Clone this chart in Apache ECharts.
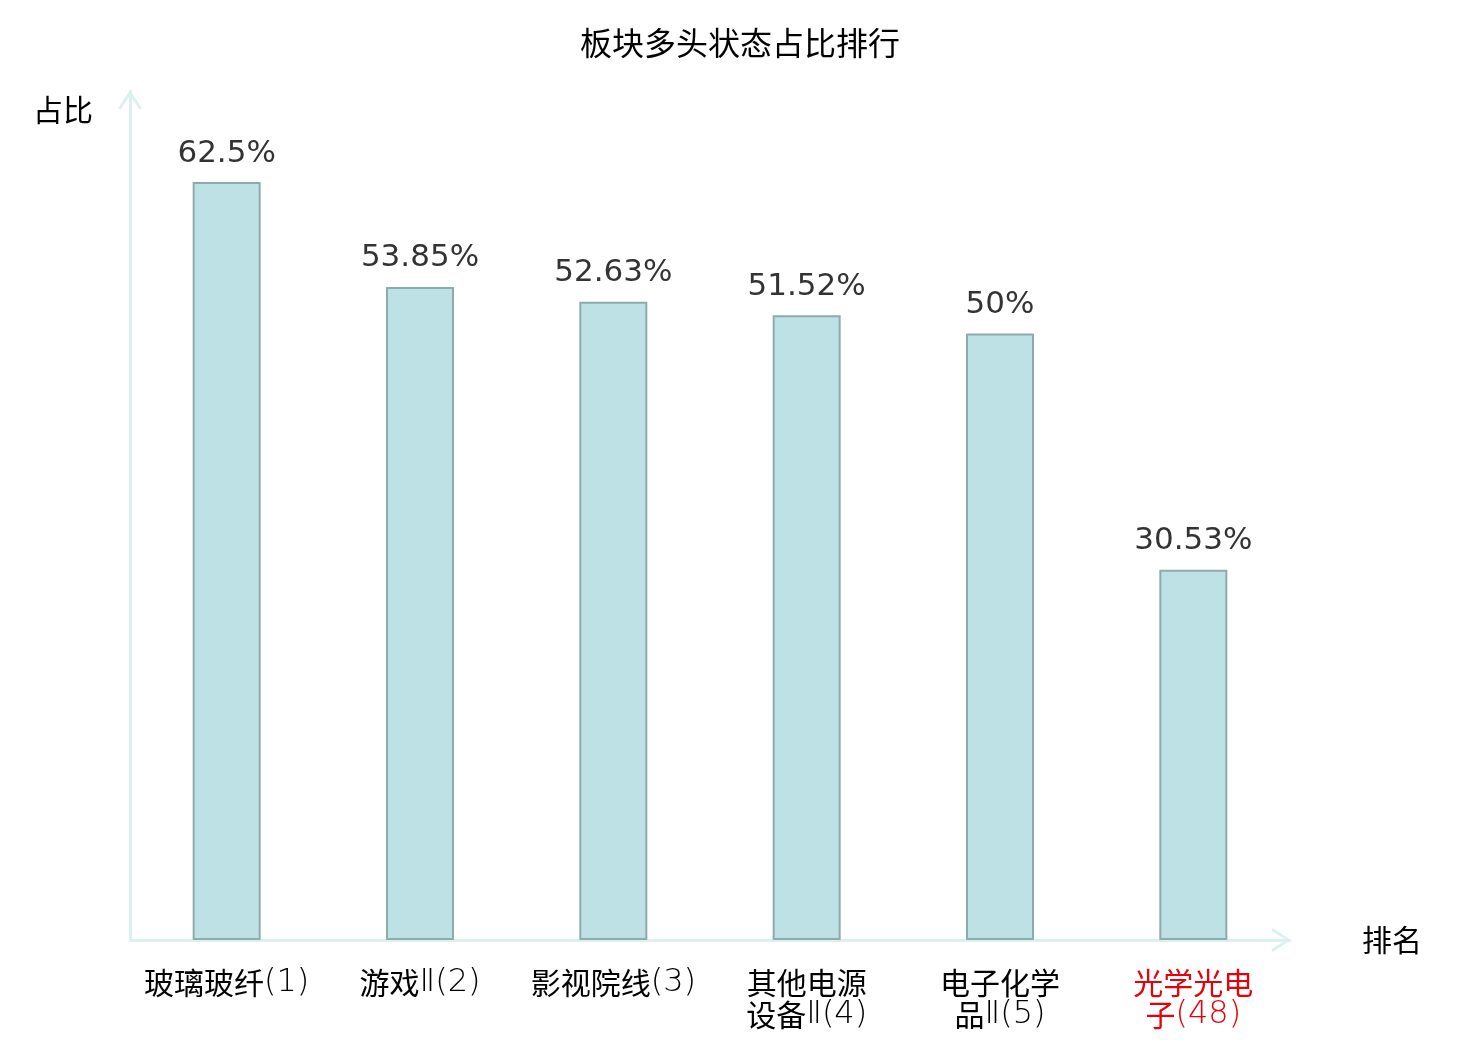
<!DOCTYPE html>
<html><head><meta charset="utf-8">
<script src="https://cdn.jsdelivr.net/npm/echarts@6/dist/echarts.min.js"></script>
<style>html,body{margin:0;padding:0;background:#fff}#c{width:1480px;height:1040px}</style>
</head><body><div id="c"></div>
<script>
var titleText = '板块多头状态占比排行';
var categories = ['玻璃玻纤', '游戏Ⅱ', '影视院线', '其他电源设备Ⅱ', '电子化学品Ⅱ', '光学光电子'];
var ranks = [1, 2, 3, 4, 5, 48];
var values = [62.5, 53.85, 52.63, 51.52, 50, 30.53];
var highlightIndex = 5;

function wrapName(name, rank, hi) {
  // wrap after every 4 CJK characters of the name
  var chars = Array.from(name);
  var lineParts = [[]];
  var cjk = 0;
  chars.forEach(function (ch) {
    if (/[\u4e00-\u9fff]/.test(ch)) {
      if (cjk > 0 && cjk % 4 === 0) lineParts.push([]);
      cjk++;
    }
    lineParts[lineParts.length - 1].push(ch);
  });
  lineParts[lineParts.length - 1].push('(' + rank + ')');
  var pre = hi ? 'h' : '';
  return lineParts.map(function (arr) {
    var s = arr.join('');
    return s.replace(/([\u4e00-\u9fff]+)|([^\u4e00-\u9fff]+)/g, function (m, a, b) {
      return a ? '{' + pre + 'n|' + a + '}' : '{' + pre + 'r|' + b + '}';
    });
  }).join('\n');
}

var chart = echarts.init(document.getElementById('c'));
var arrow = 'path://M0,18 L12,0 L24,18 L21.5,19.5 L12,5 L2.5,19.5 Z';
var cjkFont = 'Noto Sans CJK SC';
var latFont = 'DejaVu Sans';
chart.setOption({
  animation: false,
  title: {
    text: titleText, left: 'center', top: 22,
    textStyle: { fontSize: 32, fontWeight: 'normal', color: '#000', fontFamily: cjkFont }
  },
  grid: { left: 130, right: 190, top: 91, bottom: 100 },
  xAxis: {
    type: 'category',
    data: categories,
    name: '排名',
    nameGap: 72,
    nameTextStyle: { fontSize: 30, color: '#000', fontFamily: cjkFont },
    axisLine: { lineStyle: { color: '#dcf1ef', width: 3 }, symbol: ['none', arrow], symbolSize: [24, 20], symbolOffset: [0, -9] },
    axisTick: { show: false },
    axisLabel: {
      interval: 0, margin: 27, fontSize: 30, lineHeight: 32,
      fontFamily: cjkFont, color: '#000',
      formatter: function (v, i) { return wrapName(v, ranks[i], i === highlightIndex); },
      rich: {
        n: { fontSize: 30, lineHeight: 32, fontFamily: cjkFont, color: '#000' },
        r: { fontSize: 32, lineHeight: 32, fontFamily: latFont, fontWeight: 200, color: '#000' },
        hn: { fontSize: 30, lineHeight: 32, fontFamily: cjkFont, color: '#e8000b' },
        hr: { fontSize: 32, lineHeight: 32, fontFamily: latFont, fontWeight: 200, color: '#e8000b' }
      }
    }
  },
  yAxis: {
    type: 'value', min: 0, max: 70,
    name: '占比',
    nameLocation: 'end',
    nameGap: -19,
    nameTextStyle: { fontSize: 30, color: '#000', fontFamily: cjkFont, align: 'right', verticalAlign: 'middle', padding: [0, 37, 0, 0] },
    axisLine: { show: true, lineStyle: { color: '#dcf1ef', width: 3 }, symbol: ['none', arrow], symbolSize: [24, 20], symbolOffset: [0, -9] },
    axisTick: { show: false },
    axisLabel: { show: false },
    splitLine: { show: false }
  },
  series: [{
    type: 'bar',
    data: values,
    barWidth: 68,
    itemStyle: { color: '#bde1e4', borderColor: '#8eabab', borderWidth: 2 },
    label: {
      show: true, position: 'top', distance: 13,
      fontSize: 31, color: '#333', fontFamily: 'DejaVu Sans',
      formatter: function (p) { return p.value + '%'; }
    }
  }]
});
</script></body></html>
